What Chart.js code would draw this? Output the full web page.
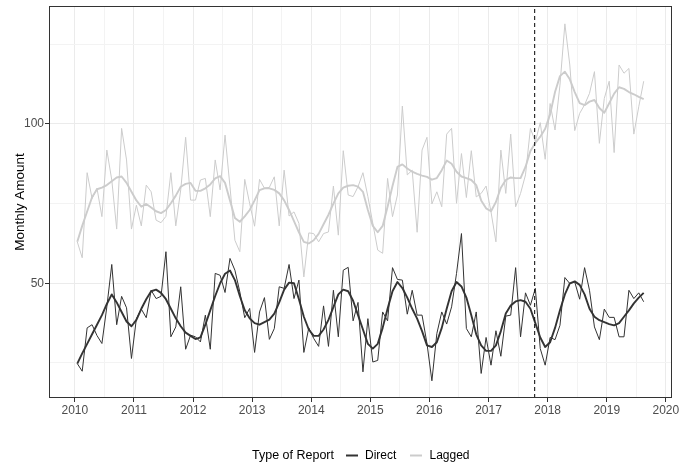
<!DOCTYPE html>
<html><head><meta charset="utf-8">
<script src="https://cdn.jsdelivr.net/npm/chart.js@4.4.1/dist/chart.umd.min.js"></script>
<style>html,body{margin:0;padding:0;background:#fff;overflow:hidden}canvas{display:block}</style>
</head><body>
<canvas id="c" width="680" height="463"></canvas>
<script>
// Monthly series, Jan 2010 .. Aug 2019 (plotted at mid-month)
const startYear = 2010;
const seriesNames = ['Direct', 'Lagged'];
const legendTitle = 'Type of Report';
const yTitle = 'Monthly Amount';

const directRaw = [
24.8,22.4,36.0,37.0,33.6,31.1,42.6,55.9,37.0,45.9,42.3,26.4,
38.9,41.9,39.2,47.8,45.2,45.9,59.9,33.2,36.3,48.9,29.3,33.7,
33.2,31.6,40.0,29.3,53.1,52.5,47.1,57.8,54.1,47.3,39.2,42.1,
28.3,41.0,45.5,32.4,35.8,48.9,48.4,55.9,45.2,51.0,28.3,36.0,
32.7,30.2,42.9,30.2,47.8,33.2,54.1,55.0,38.2,44.0,22.2,38.9,
25.3,25.8,41.0,38.2,54.9,51.2,51.0,40.3,47.8,40.0,40.0,31.1,
19.4,34.2,41.0,37.2,42.6,53.1,65.6,35.8,33.2,41.0,21.7,33.0,
24.3,35.1,27.1,39.7,40.0,54.9,33.2,47.0,43.1,48.4,29.5,24.3,
33.0,32.3,36.8,51.8,49.9,50.4,45.0,54.9,47.8,36.3,32.3,41.9,
39.3,39.3,33.2,33.2,47.8,45.2,47.0,44.2];

const directSmooth = [
24.8,28,31,34,37,40,43.5,46.5,44,41,38,36.5,
38.5,42,45,47.5,48,47,45,42,39,36.5,34.5,33.5,
32.5,33,37,41.5,46,50,53,54,51,46,41.5,39,
37.5,37,37.8,38.6,40.5,44,48,50.2,50,45,39.5,35.5,
33.5,33.5,35.5,38.5,42.5,46.5,48,47.5,44.5,40,35.5,31,
29.5,31,36,42,47.5,50.4,48.5,45.5,42,38.9,35,30.5,
30,31.5,36,42,47.5,50.4,49,45.5,40,34,30.5,28.8,
28.8,30.5,35,40.5,43,44.3,44.7,44.2,42,37.5,33,30,
31.5,36,41.5,46.5,50,50.6,49.5,46.5,42,39.5,38.4,37.8,
37.2,36.8,37.5,39.5,41.5,43.7,45.5,47];

const laggedRaw = [
63,58,84.7,76.6,79.8,70.9,91.8,82.4,67,98.6,88.7,67,
74.5,68,80.8,78.7,69.8,69,71,84.7,68,79.3,95.8,76.1,
76.1,82.4,82.9,70.9,88.7,79.3,96.5,80.3,63.5,59.9,82.6,75.0,
67.9,82.6,79.8,80.1,83.4,68,85.5,71.1,72.4,68.8,52,65.8,
65.6,63,65.6,66.1,80.5,65.1,91.6,77.7,77.2,80.3,84.7,77.2,
68.8,60.4,59.4,82.9,70.9,77.7,105.6,84,85.5,66,91.8,95.8,
74.9,78.7,74,96.8,98.6,75.1,90.7,76.9,91.6,77.1,78.2,80.5,
72.4,63,91.8,78.2,96.8,74,78.2,84,98.6,94.4,100.4,88.9,
106.4,98.1,112.2,131.4,118.5,97.9,103.3,106,109.6,116.4,93.9,108,
113.4,91,118.5,115.9,117.4,96.8,105.4,113.4];

const laggedSmooth = [
63,68,72.5,77,79.5,80,80.8,82,83.2,83.5,81.5,78.7,
76,74,74.9,73.8,72.6,72,73,75.1,77.5,80.3,81.2,81.5,
79,79,79.8,81,82.9,83.6,81.5,76,70.5,69.3,71,73,
76,79.2,79.8,79.8,79.3,78.2,76,73,69.5,66,63,62.5,
63.5,65.5,68.5,71.5,75,78.2,80,80.6,80.8,80.3,78.7,73,
68,66,68,74,80.5,86.5,87.3,86,85,84.3,83.8,83.4,
82.5,83,85.5,88.5,87.5,85,83.5,83,82.4,80.8,76,73.5,
72.6,75.5,80,82.4,83.2,83,83,86.5,91.5,94,96,98.5,
103,110,115,116.4,114,110,106.5,105.9,107,107.5,105,103.5,
106.5,109.5,111.5,111,110,109.3,108.5,107.8];

const cutoffYear = [2017.78];
const xTickValues = [2010,2010.5,2011,2011.5,2012,2012.5,2013,2013.5,2014,2014.5,2015,2015.5,2016,2016.5,2017,2017.5,2018,2018.5,2019,2019.5,2020];
const xLabelTicks = [2010,2011,2012,2013,2014,2015,2016,2017,2018,2019,2020];
const yTickValues = [25,50,75,100,125];
const yLabelTicks = [50,100];
const xRange = [2009.563, 2020.104];
const yRange = [14.0, 137.0];

const colDirect = '#333333';
const colLagged = '#cccccc';

function monthX(i){ return startYear + (i + 0.5) / 12; }
const toPts = arr => arr.map((v, i) => ({x: monthX(i), y: v}));

const FONT = '"Liberation Sans", Arial, Helvetica, sans-serif';

const panelPlugin = {
  id: 'panel',
  afterDraw(chart) {
    const {ctx, chartArea: a} = chart;
    ctx.save();
    ctx.strokeStyle = '#333333';
    ctx.lineWidth = 1;
    ctx.strokeRect(a.left + 0.5, a.top + 0.5, a.right - a.left - 1, a.bottom - a.top - 1);
    // legend
    const yc = 455.5;
    ctx.fillStyle = '#000000';
    ctx.textBaseline = 'middle';
    ctx.textAlign = 'left';
    ctx.font = '12.5px ' + FONT;
    ctx.fillText(legendTitle, 252, yc);
    ctx.font = '12px ' + FONT;
    ctx.lineWidth = 2;
    ctx.strokeStyle = colDirect;
    ctx.beginPath(); ctx.moveTo(346, yc); ctx.lineTo(358, yc); ctx.stroke();
    ctx.fillText(seriesNames[0], 365, yc);
    ctx.strokeStyle = colLagged;
    ctx.beginPath(); ctx.moveTo(410, yc); ctx.lineTo(422, yc); ctx.stroke();
    ctx.fillText(seriesNames[1], 429.5, yc);
    ctx.restore();
  }
};

const isMajorX = v => xLabelTicks.includes(v);
const isMajorY = v => yLabelTicks.includes(v);

new Chart(document.getElementById('c'), {
  type: 'line',
  data: {
    datasets: [
      { label: 'cutoff', data: [{x: cutoffYear[0], y: yRange[0]}, {x: cutoffYear[0], y: yRange[1]}],
        borderColor: '#1a1a1a', borderWidth: 1.1, borderDash: [4, 3], pointRadius: 0 },
      { label: seriesNames[0] + ' smooth', data: toPts(directSmooth), borderColor: colDirect, borderWidth: 1.9, pointRadius: 0, tension: 0 },
      { label: seriesNames[0], data: toPts(directRaw), borderColor: colDirect, borderWidth: 1, pointRadius: 0, tension: 0 },
      { label: seriesNames[1] + ' smooth', data: toPts(laggedSmooth), borderColor: colLagged, borderWidth: 1.9, pointRadius: 0, tension: 0 },
      { label: seriesNames[1], data: toPts(laggedRaw), borderColor: colLagged, borderWidth: 1, pointRadius: 0, tension: 0 }
    ]
  },
  options: {
    responsive: false,
    animation: false,
    devicePixelRatio: 1,
    layout: { padding: { left: 0, right: 8, top: 6, bottom: 0 } },
    plugins: { legend: { display: false }, tooltip: { enabled: false } },
    elements: { line: { fill: false, borderJoinStyle: 'round', borderCapStyle: 'butt' } },
    scales: {
      x: {
        type: 'linear',
        min: xRange[0], max: xRange[1],
        afterBuildTicks: s => { s.ticks = xTickValues.map(v => ({value: v})); },
        afterFit: s => { s.height = 65; s.paddingLeft = 0; s.paddingRight = 0; },
        border: { display: false },
        grid: {
          color: c => (c.tick && isMajorX(c.tick.value)) ? '#EBEBEB' : '#F3F3F3',
          lineWidth: 1,
          tickLength: 4,
          tickWidth: 1,
          tickColor: c => (c.tick && isMajorX(c.tick.value)) ? '#333333' : 'rgba(0,0,0,0)'
        },
        ticks: {
          autoSkip: false, maxRotation: 0, minRotation: 0, padding: 1,
          color: '#4D4D4D', font: { family: FONT, size: 12 },
          callback: v => isMajorX(v) ? String(v) : ''
        }
      },
      y: {
        type: 'linear',
        min: yRange[0], max: yRange[1],
        afterBuildTicks: s => { s.ticks = yTickValues.map(v => ({value: v})); },
        afterFit: s => { s.width = 49; s.paddingTop = 0; s.paddingBottom = 0; },
        border: { display: false },
        grid: {
          color: c => (c.tick && isMajorY(c.tick.value)) ? '#EBEBEB' : '#F3F3F3',
          lineWidth: 1,
          tickLength: 4,
          tickWidth: 1,
          tickColor: c => (c.tick && isMajorY(c.tick.value)) ? '#333333' : 'rgba(0,0,0,0)'
        },
        ticks: {
          autoSkip: false, padding: 1,
          color: '#4D4D4D', font: { family: FONT, size: 12 },
          callback: v => isMajorY(v) ? String(v) : ''
        },
        title: {
          display: true, text: yTitle, color: '#000000',
          font: { family: FONT, size: 13.5 }, padding: { top: 12, bottom: 0 }
        }
      }
    }
  },
  plugins: [panelPlugin]
});
</script>
</body></html>
